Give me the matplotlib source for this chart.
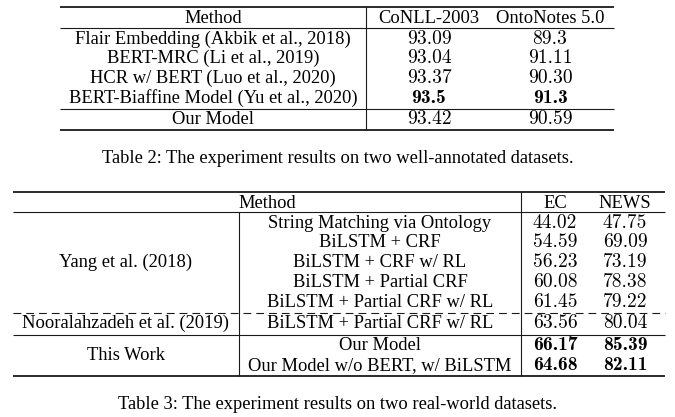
import matplotlib
matplotlib.use("Agg")
import matplotlib.pyplot as plt

# ---------------- data ----------------
t2_header = ["Method", "CoNLL-2003", "OntoNotes 5.0"]
t2_methods = ["Flair Embedding (Akbik et al., 2018)", "BERT-MRC (Li et al., 2019)",
              "HCR w/ BERT (Luo et al., 2020)", "BERT-Biaffine Model (Yu et al., 2020)",
              "Our Model"]
t2_conll = ["93.09", "93.04", "93.37", "93.5", "93.42"]
t2_onto = ["89.3", "91.11", "90.30", "91.3", "90.59"]
t2_bold = [False, False, False, True, False]
t2_caption = "Table 2: The experiment results on two well-annotated datasets."

t3_header = ["Method", "EC", "NEWS"]
t3_groups = ["Yang et al. (2018)", "Nooralahzadeh et al. (2019)", "This Work"]
t3_group_rows = [(0, 4), (5, 5), (6, 7)]
t3_methods = ["String Matching via Ontology", "BiLSTM + CRF", "BiLSTM + CRF w/ RL",
              "BiLSTM + Partial CRF", "BiLSTM + Partial CRF w/ RL",
              "BiLSTM + Partial CRF w/ RL", "Our Model", "Our Model w/o BERT, w/ BiLSTM"]
t3_ec = ["44.02", "54.59", "56.23", "60.08", "61.45", "63.56", "66.17", "64.68"]
t3_news = ["47.75", "69.09", "73.19", "78.38", "79.22", "80.04", "85.39", "82.11"]
t3_bold = [False, False, False, False, False, False, True, True]
t3_caption = "Table 3: The experiment results on two real-world datasets."

# ---------------- layout ----------------
W, H = 675, 417
fig = plt.figure(figsize=(W / 100, H / 100), dpi=100)
ax = fig.add_axes([0, 0, 1, 1])
ax.set_xlim(0, W)
ax.set_ylim(H, 0)
ax.axis("off")

FS = 13.3
NFS = 14.0
SERIF = "Liberation Serif"
NUM = "cmr10"
BNUM = "cmb10"
BASE = 5.6  # baseline offset below row centre
THICK, THIN = 1.3, 0.8
LC = "#1a1a1a"


def txt(x, yc, s, family=SERIF, weight="normal", size=FS):
    ax.text(x, yc + BASE, s, ha="center", va="baseline", fontsize=size,
            family=family, weight=weight, color="black")


def hline(y, x0, x1, lw, ls="-"):
    if ls == "--":
        ax.plot([x0, x1], [y, y], color=LC, lw=lw, dashes=(7, 4.5))
    else:
        ax.plot([x0, x1], [y, y], color=LC, lw=lw, solid_capstyle="butt")


def vline(x, y0, y1, lw=THIN):
    ax.plot([x, x], [y0, y1], color=LC, lw=lw, solid_capstyle="butt")


# ---- Table 2 ----
x0, x1 = 60, 614
xv = 366
top, hdr = 7, 28
rh = 19.8
c_m, c_a, c_b = (x0 + xv) / 2, 429, 550
hline(top, x0, x1, THICK)
txt(c_m, (top + hdr) / 2, t2_header[0])
txt(c_a, (top + hdr) / 2, t2_header[1])
txt(c_b, (top + hdr) / 2, t2_header[2])
hline(hdr, x0, x1, THIN)
y = hdr
for i, (m, a, b, bd) in enumerate(zip(t2_methods, t2_conll, t2_onto, t2_bold)):
    if i == len(t2_methods) - 1:
        sep = y + 1.5
        hline(sep, x0, x1, THIN)
        y = sep
    yc = y + rh / 2
    txt(c_m, yc, m)
    txt(c_a, yc, a, family=BNUM if bd else NUM, size=NFS)
    txt(c_b, yc, b, family=BNUM if bd else NUM, size=NFS)
    y += rh
bot2 = y + 1.5
hline(bot2, x0, x1, THICK)
vline(xv, top, bot2)
ax.text(W / 2, 157 + BASE, t2_caption, ha="center", va="baseline",
        fontsize=FS, family=SERIF)

# ---- Table 3 ----
x0, x1 = 13, 665
xg, xv = 239, 521
top, hdr = 192, 212
c_g, c_m, c_a, c_b = (x0 + xg) / 2, (xg + xv) / 2, 555, 625
hline(top, x0, x1, THICK)
txt((x0 + xv) / 2, (top + hdr) / 2, t3_header[0])
txt(c_a, (top + hdr) / 2, t3_header[1])
txt(c_b, (top + hdr) / 2, t3_header[2])
hline(hdr, x0, x1, THIN)
row_c = []
y = hdr
for i in range(len(t3_methods)):
    if i == 5:
        y += 1.5
        hline(y, x0, x1, THIN, ls="--")
    if i == 6:
        y += 2.5
        hline(y, x0, x1, THIN)
    row_c.append(y + rh / 2)
    y += rh
bot3 = y + 1.5
for i, (m, a, b, bd) in enumerate(zip(t3_methods, t3_ec, t3_news, t3_bold)):
    txt(c_m, row_c[i], m)
    txt(c_a, row_c[i], a, family=BNUM if bd else NUM, size=NFS)
    txt(c_b, row_c[i], b, family=BNUM if bd else NUM, size=NFS)
for g, (r0, r1) in zip(t3_groups, t3_group_rows):
    txt(c_g, (row_c[r0] + row_c[r1]) / 2, g)
hline(bot3, x0, x1, THICK)
vline(xg, hdr, bot3)
vline(xv, top, bot3)
ax.text(W / 2, 403 + BASE, t3_caption, ha="center", va="baseline",
        fontsize=FS, family=SERIF)

fig.savefig("out.png", dpi=100)
